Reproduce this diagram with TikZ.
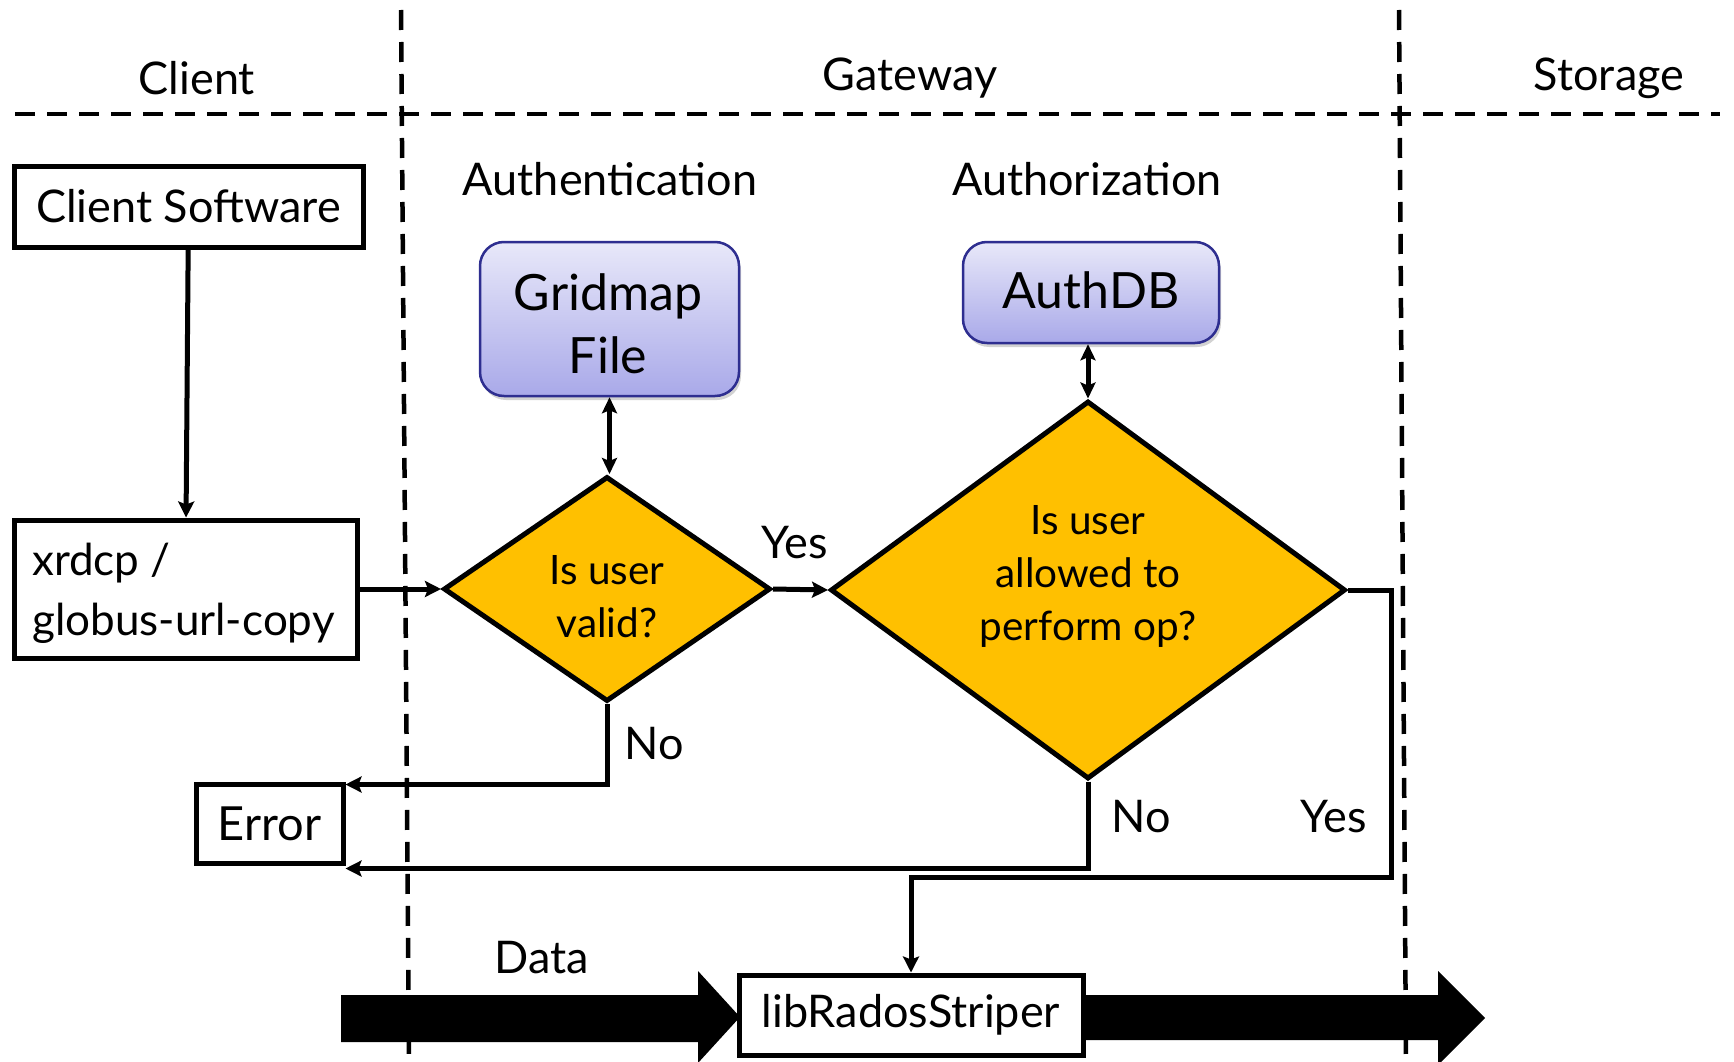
\documentclass[tikz,border=0pt]{standalone}
\usepackage{fontspec}
\setmainfont{Lato}
\usetikzlibrary{arrows.meta,shapes.geometric,shadows,calc}
\definecolor{dorange}{HTML}{FFC000}
\definecolor{bboxtop}{HTML}{E8E8F9}
\definecolor{bboxbot}{HTML}{A9A9E9}
\definecolor{bborder}{HTML}{2E2E90}
\tikzset{
  sep/.style={line width=4.5pt, dash pattern=on 20pt off 12pt},
  plainbox/.style={draw, line width=5pt, rectangle, inner sep=0pt},
  bluebox/.style={draw=bborder, line width=2.5pt, rounded corners=24pt, top color=bboxtop, bottom color=bboxbot, inner sep=0pt,
    drop shadow={opacity=0.35, shadow xshift=2pt, shadow yshift=-4pt}},
  decision/.style={draw, diamond, fill=dorange, line width=5pt, inner sep=0pt},
  conn/.style={line width=5pt, -{Stealth[length=16pt,width=16pt,inset=3pt]}},
  dconn/.style={line width=5pt, {Stealth[length=16pt,width=15pt,inset=3pt]}-{Stealth[length=16pt,width=15pt,inset=3pt]}},
  lbl/.style={font=\fontsize{45}{54}\selectfont, inner sep=0pt},
  dlbl/.style={font=\fontsize{40.5}{53}\selectfont, inner sep=0pt, align=center},
  blbl/.style={font=\fontsize{50}{63}\selectfont, inner sep=0pt, align=center},
}
\begin{document}
\begin{tikzpicture}[x=1pt,y=-1pt]
\useasboundingbox (0,0) rectangle (1734,1062);
\fill[white] (0,0) rectangle (1734,1062);
% separators
\draw[sep] (15,114) -- (1720,114);
\draw[sep] (401,10) -- (409,1062);
\draw[sep] (1399,10) -- (1406,1062);
% lane headers
\node[lbl] (hclient) at (197,78) {Client};
\node[lbl] (hgate) at (910,78) {Gateway};
\node[lbl] (hstore) at (1609,78) {Storage};
\node[lbl] (hauthn) at (610,179) {Authentication};
\node[lbl] (hauthz) at (1087,179) {Authorization};
% big data arrows
\fill (341,995) -- (698,995) -- (698,971) -- (740,1017) -- (698,1063) -- (698,1042) -- (341,1042) -- cycle;
\fill (1080,995) -- (1438,995) -- (1438,971) -- (1485,1018) -- (1438,1065) -- (1438,1040) -- (1080,1040) -- cycle;
% boxes
\node[plainbox, lbl, minimum width=349pt, minimum height=81pt] (csw) at (188.5,206.5) {Client Software};
\node[plainbox, minimum width=343pt, minimum height=138pt] (xrd) at (185.5,589) {};
\node[anchor=west, align=left, inner sep=0pt, font=\fontsize{44}{60}\selectfont] (xrdt) at (32,593) {xrdcp /\\globus-url-copy};
\node[plainbox, font=\fontsize{47}{56}\selectfont, minimum width=147pt, minimum height=79pt] (err) at (269.5,823.5) {Error};
\node[plainbox, lbl, fill=white, minimum width=344pt, minimum height=80pt] (lib) at (911,1015) {libRadosStriper};
\node[bluebox, minimum width=259pt, minimum height=154pt] (grid) at (609.5,319) {};
\node[blbl] (gridt) at (608,324) {Gridmap\\File};
\node[bluebox, minimum width=256pt, minimum height=101pt] (adb) at (1091,292.5) {};
\node[blbl] (adbt) at (1091,290) {AuthDB};
% decisions
\node[decision, minimum width=327pt, minimum height=225pt] (d1) at (607,589) {};
\node[dlbl] (d1t) at (607,597) {Is user\\valid?};
\node[decision, minimum width=515pt, minimum height=378pt] (d2) at (1088,590) {};
\node[dlbl] (d2t) at (1088,576) {Is user\\allowed to\\perform op?};
% connectors
\draw[conn] (csw) -- (xrd);
\draw[conn] (xrd.east) -- (d1.west);
\draw[dconn] (grid.south) -- (grid.south |- d1.north);
\draw[dconn] (adb.south -| d2.north) -- (d2.north);
\draw[conn] (d1.east) -- (d2.west);
\coordinate (errtop) at ($(err.north east)+(0,3)$);
\coordinate (errbot) at ($(err.south east)+(0,3)$);
\draw[conn] (d1.south) |- (errtop);
\draw[conn] (d2.south) |- (errbot);
\coordinate (rturn) at (1391,877);
\draw[conn] (d2.east) -| (rturn) -| (lib.north);
% labels
\node[lbl] (yes1) at (795,543) {Yes};
\node[lbl] (no1) at (654,744) {No};
\node[lbl] (no2) at (1141,817) {No};
\node[lbl] (yes2) at (1334,817) {Yes};
\node[lbl] (data) at (542,958) {Data};
\end{tikzpicture}
\end{document}
